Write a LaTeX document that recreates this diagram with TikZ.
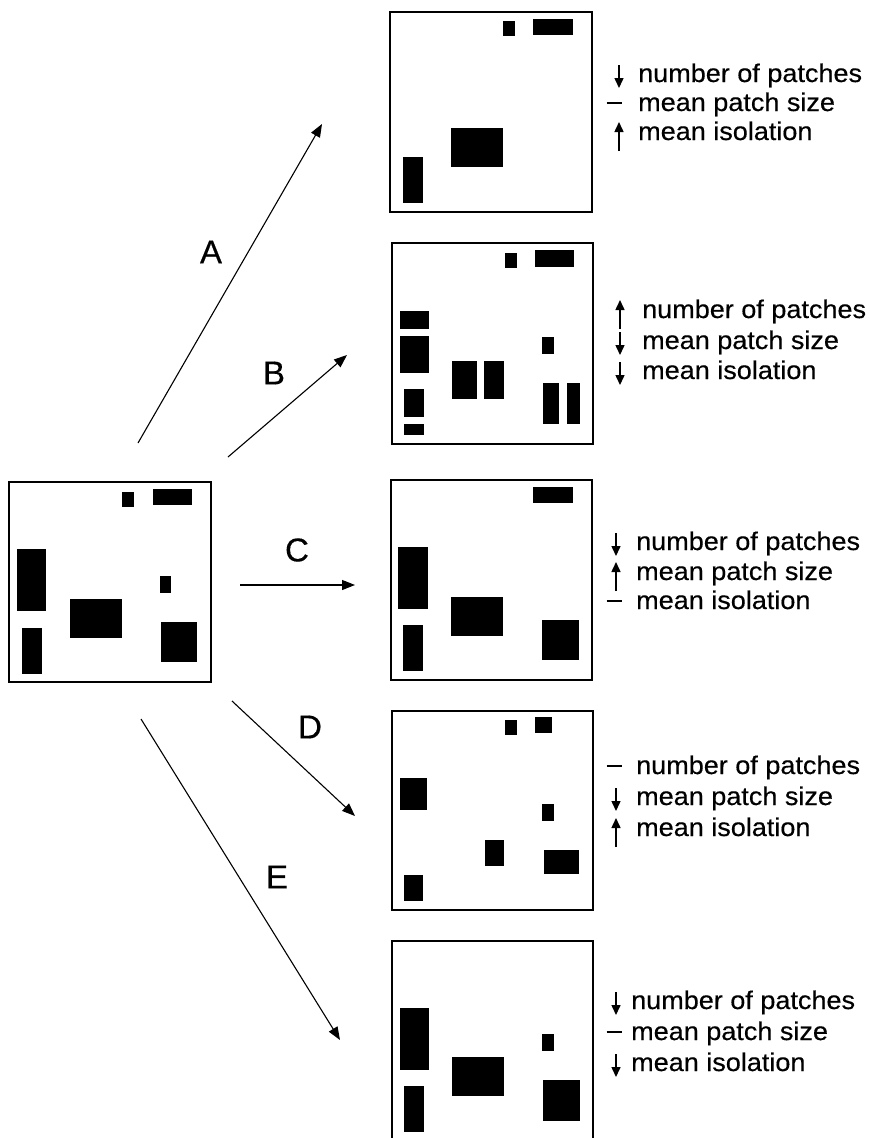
\documentclass[tikz,border=0pt]{standalone}
\usepackage{fontspec}
\setmainfont{Liberation Sans}
\newfontfamily\lsf[FakeStretch=1.06,FakeBold=0.4]{Liberation Sans}
\newfontfamily\lsl[FakeBold=0.4]{Liberation Sans}
\usetikzlibrary{arrows.meta}
\tikzset{
  panel/.style={draw, line width=1.5pt, minimum width=#1, inner sep=0pt, outer sep=0pt},
  patch/.style={fill=black},
  bigarrow/.style={line width=1.1pt, -{Triangle[length=13pt,width=10pt]}},
  lbl/.style={font=\lsl\fontsize{33}{36}\selectfont, inner sep=0pt},
  txt/.style={font=\lsf\fontsize{25.5}{28}\selectfont, anchor=base west, inner sep=0pt},
  sym/.style={line width=1.5pt, -{Triangle[length=10pt,width=9pt]}},
  dnarr/.pic={\draw[sym] (0,-17) -- (0,6);},
  uparr/.pic={\draw[sym] (0,11) -- (0,-18);},
  flat/.pic={\draw[line width=1.6pt] (-7.5,-8) -- (7.5,-8);}
}
\begin{document}
\begin{tikzpicture}[x=1pt,y=-1pt]
\useasboundingbox (0,0) rectangle (870,1138);
\fill[white] (0,0) rectangle (870,1138);

% panels
\node[panel=202pt, minimum height=200pt] (main) at (110,582) {};
\node[panel=202pt, minimum height=200pt] (pA) at (491,112) {};
\node[panel=201pt, minimum height=201pt] (pB) at (492.5,343.5) {};
\node[panel=201pt, minimum height=200pt] (pC) at (491.5,580) {};
\node[panel=201pt, minimum height=199pt] (pD) at (492.5,810.5) {};
\node[panel=201pt, minimum height=200pt] (pE) at (492.5,1041) {};

% patches: main
\fill[patch] (122,492) rectangle (134,507);
\fill[patch] (153,489) rectangle (192,505);
\fill[patch] (17,549) rectangle (46,611);
\fill[patch] (22,628) rectangle (42,674);
\fill[patch] (70,599) rectangle (122,638);
\fill[patch] (160,576) rectangle (171,593);
\fill[patch] (161,622) rectangle (197,662);
% A
\fill[patch] (503,21) rectangle (515,36);
\fill[patch] (533,19) rectangle (573,35);
\fill[patch] (451,128) rectangle (503,167);
\fill[patch] (403,157) rectangle (423,203);
% B
\fill[patch] (505,253) rectangle (517,268);
\fill[patch] (535,250) rectangle (574,267);
\fill[patch] (400,311) rectangle (429,329);
\fill[patch] (400,336) rectangle (429,373);
\fill[patch] (404,389) rectangle (424,417);
\fill[patch] (404,424) rectangle (424,435);
\fill[patch] (452,361) rectangle (477,399);
\fill[patch] (484,361) rectangle (504,399);
\fill[patch] (542,337) rectangle (554,354);
\fill[patch] (543,383) rectangle (559,424);
\fill[patch] (567,383) rectangle (580,424);
% C
\fill[patch] (533,487) rectangle (573,503);
\fill[patch] (398,547) rectangle (428,609);
\fill[patch] (403,625) rectangle (423,671);
\fill[patch] (451,597) rectangle (503,636);
\fill[patch] (542,620) rectangle (579,660);
% D
\fill[patch] (505,720) rectangle (517,735);
\fill[patch] (535,717) rectangle (552,733);
\fill[patch] (400,778) rectangle (427,810);
\fill[patch] (542,804) rectangle (554,821);
\fill[patch] (485,840) rectangle (504,866);
\fill[patch] (544,850) rectangle (579,874);
\fill[patch] (404,875) rectangle (423,901);
% E
\fill[patch] (400,1008) rectangle (429,1070);
\fill[patch] (404,1086) rectangle (424,1132);
\fill[patch] (452,1057) rectangle (504,1096);
\fill[patch] (542,1034) rectangle (554,1051);
\fill[patch] (543,1080) rectangle (580,1121);

% arrows
\coordinate (As) at (138,443); \coordinate (Ae) at (322,124);
\coordinate (Bs) at (228,457); \coordinate (Be) at (347,355);
\coordinate (Cs) at (240,585); \coordinate (Ce) at (355,585);
\coordinate (Ds) at (232,701); \coordinate (De) at (355,816);
\coordinate (Es) at (141,719); \coordinate (Ee) at (340,1040);
\draw[bigarrow] (As) -- (Ae);
\draw[bigarrow] (Bs) -- (Be);
\draw[bigarrow] (Cs) -- (Ce);
\draw[bigarrow] (Ds) -- (De);
\draw[bigarrow] (Es) -- (Ee);

\node[lbl] (lA) at (211,252) {A};
\node[lbl] (lB) at (274,373) {B};
\node[lbl] (lC) at (297,550) {C};
\node[lbl] (lD) at (310,727) {D};
\node[lbl] (lE) at (277,877) {E};

% A texts
\pic at (619,82) {dnarr};
\node[txt] (a1) at (638,82) {number of patches};
\pic at (614,111) {flat};
\node[txt] (a2) at (638,111) {mean patch size};
\pic at (619,140) {uparr};
\node[txt] (a3) at (638,140) {mean isolation};
% B texts
\pic at (620,318) {uparr};
\node[txt] (b1) at (642,318) {number of patches};
\pic at (620,349) {dnarr};
\node[txt] (b2) at (642,349) {mean patch size};
\pic at (620,379) {dnarr};
\node[txt] (b3) at (642,379) {mean isolation};
% C texts
\pic at (616,550) {dnarr};
\node[txt] (c1) at (636,550) {number of patches};
\pic at (616,580) {uparr};
\node[txt] (c2) at (636,580) {mean patch size};
\pic at (614,609) {flat};
\node[txt] (c3) at (636,609) {mean isolation};
% D texts
\pic at (614,774) {flat};
\node[txt] (d1) at (636,774) {number of patches};
\pic at (616,805) {dnarr};
\node[txt] (d2) at (636,805) {mean patch size};
\pic at (616,836) {uparr};
\node[txt] (d3) at (636,836) {mean isolation};
% E texts
\pic at (616,1009) {dnarr};
\node[txt] (e1) at (631,1009) {number of patches};
\pic at (614,1040) {flat};
\node[txt] (e2) at (631,1040) {mean patch size};
\pic at (616,1071) {dnarr};
\node[txt] (e3) at (631,1071) {mean isolation};
\end{tikzpicture}
\end{document}
